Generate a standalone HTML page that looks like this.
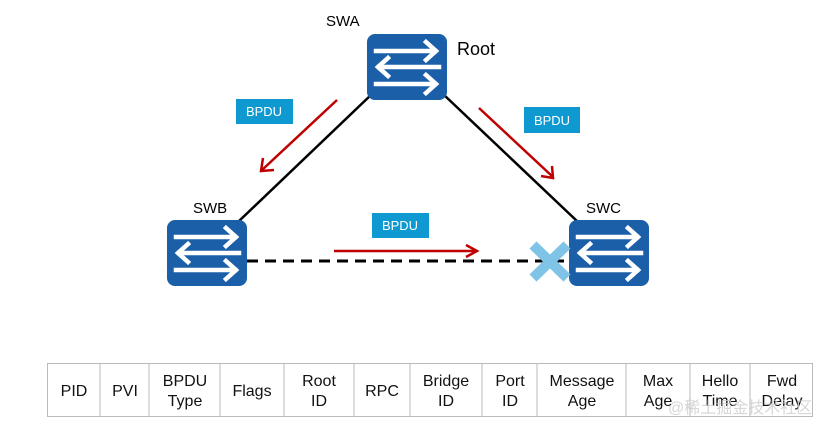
<!DOCTYPE html>
<html><head><meta charset="utf-8"><style>
body{margin:0;background:#fff;width:836px;height:431px;overflow:hidden;font-family:"Liberation Sans","Noto Sans CJK SC",sans-serif}
</style></head><body>
<svg width="836" height="431" viewBox="0 0 836 431" xmlns="http://www.w3.org/2000/svg" style="position:absolute;left:0;top:0">
<defs>
<g id="sw">
<rect x="0" y="0" width="80" height="66" rx="8" fill="#1a5fa8"/>
<g stroke="#fff" stroke-width="4.5" fill="none" stroke-linecap="square">
<line x1="9" y1="17" x2="68" y2="17"/><polyline points="59,8 69,17 59,26"/>
<line x1="12" y1="33" x2="72" y2="33"/><polyline points="21,24 11,33 21,42"/>
<line x1="9" y1="50" x2="68" y2="50"/><polyline points="59,41 69,50 59,59"/>
</g>
</g>
</defs>
<line x1="372" y1="94" x2="238" y2="222" stroke="#000" stroke-width="2.5"/>
<line x1="443" y1="94" x2="578" y2="222" stroke="#000" stroke-width="2.5"/>
<line x1="247" y1="261" x2="570" y2="261" stroke="#000" stroke-width="3" stroke-dasharray="11,7"/>
<use href="#sw" x="367" y="34"/>
<use href="#sw" x="167" y="220"/>
<use href="#sw" x="569" y="220"/>
<g stroke="#7fc4e6" stroke-width="10"><line x1="533" y1="245" x2="567" y2="278"/><line x1="567" y1="245" x2="533" y2="278"/></g>
<use href="#sw" x="569" y="220" opacity="0"/>
<g stroke="#c00000" stroke-width="2.5" fill="none">
<line x1="337" y1="100" x2="262" y2="170"/><polyline points="263,158 261,171 274,170"/>
<line x1="479" y1="108" x2="553" y2="177"/><polyline points="541,176 553,178 552,166"/>
<line x1="334" y1="251" x2="477" y2="251"/><polyline points="466,245 477,251 466,257"/>
</g>
<g fill="#0e9ad0"><rect x="236" y="99" width="57" height="25"/><rect x="524" y="107" width="56" height="26"/><rect x="372" y="213" width="57" height="25"/></g>
<g fill="#fff" font-size="13" text-anchor="middle"><text x="264" y="116">BPDU</text><text x="552" y="125">BPDU</text><text x="400" y="230">BPDU</text></g>
<g font-size="15" fill="#000"><text x="326" y="26">SWA</text><text x="193" y="213">SWB</text><text x="586" y="213">SWC</text></g>
<text x="457" y="55" font-size="18" fill="#000">Root</text>
<g stroke="#bbb" stroke-width="1" fill="none">
<rect x="47.5" y="363.5" width="765" height="53"/>
<path d="M100 363v54M149 363v54M220 363v54M284 363v54M354 363v54M410 363v54M482 363v54M537 363v54M626 363v54M690 363v54M750 363v54"/>
</g>
<g font-size="16" fill="#111" text-anchor="middle">
<text x="74" y="396">PID</text><text x="125" y="396">PVI</text>
<text x="185" y="386">BPDU</text><text x="185" y="406">Type</text>
<text x="252" y="396">Flags</text>
<text x="319" y="386">Root</text><text x="319" y="406">ID</text>
<text x="382" y="396">RPC</text>
<text x="446" y="386">Bridge</text><text x="446" y="406">ID</text>
<text x="510" y="386">Port</text><text x="510" y="406">ID</text>
<text x="582" y="386">Message</text><text x="582" y="406">Age</text>
<text x="658" y="386">Max</text><text x="658" y="406">Age</text>
<text x="720" y="386">Hello</text><text x="720" y="406">Time</text>
<text x="782" y="386">Fwd</text><text x="782" y="406">Delay</text>
</g>
<text x="668" y="413" font-size="16" fill="#ccc" opacity="0.8">@稀土掘金技术社区</text>
</svg>
</body></html>
